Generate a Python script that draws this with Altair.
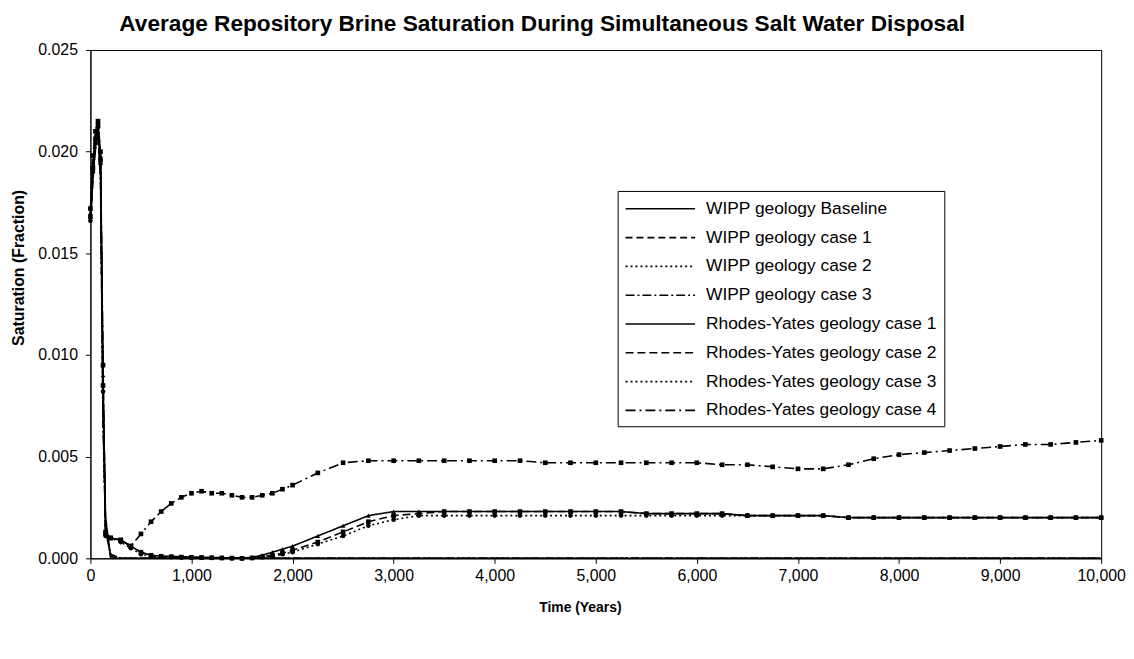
import altair as alt
import pandas as pd

SERIES = [
    "WIPP geology Baseline",
    "WIPP geology case 1",
    "WIPP geology case 2",
    "WIPP geology case 3",
    "Rhodes-Yates geology case 1",
    "Rhodes-Yates geology case 2",
    "Rhodes-Yates geology case 3",
    "Rhodes-Yates geology case 4",
]
DASHES = [[1, 0], [7, 4], [2, 3], [9, 3, 2, 3], [1, 0], [8, 4], [2, 3], [10, 4, 2, 4]]
WIDTHS = [1.6, 1.6, 1.6, 1.6, 2.2, 2.2, 2.2, 2.2]
MK_SERIES = SERIES[4:]
MK_SHAPES = ["triangle-up", "square", "circle", "square"]

X_TICKS = [0, 1000, 2000, 3000, 4000, 5000, 6000, 7000, 8000, 9000, 10000]
Y_TICKS = [0.0, 0.005, 0.010, 0.015, 0.020, 0.025]

# WIPP geology runs (time in years)
WIPP_T = [0, 25, 50, 75, 100, 125, 150, 200, 300, 500, 1000, 2000, 4000, 6000, 8000, 10000]
WIPP_BASE = [0.0165, 0.0190, 0.0205, 0.0212, 0.0195, 0.0080, 0.0020, 0.0, 0.0, 0.0, 0.0, 0.0, 0.0, 0.0, 0.0, 0.0]
WIPP_C1 = [0.0165, 0.0188, 0.0203, 0.0210, 0.0190, 0.0070, 0.0016, 0.0002, 0.0, 0.0, 0.0, 0.0, 0.0, 0.0, 0.0, 0.0]
WIPP_C2 = [0.0165, 0.0187, 0.0202, 0.0209, 0.0188, 0.0068, 0.0015, 0.0002, 0.0, 0.0, 0.0, 0.0, 0.0, 0.0, 0.0, 0.0]
WIPP_C3 = [0.0165, 0.0186, 0.0201, 0.0208, 0.0186, 0.0066, 0.0014, 0.0001, 0.0, 0.0, 0.0, 0.0, 0.0, 0.0, 0.0, 0.0]

# Rhodes-Yates geology runs
RY_T = [0, 25, 50, 75, 100, 125, 150, 200,
        300, 400, 500, 600, 700, 800, 900, 1000, 1100, 1200, 1300, 1400, 1500, 1600, 1700, 1800, 1900, 2000,
        2250, 2500, 2750, 3000, 3250, 3500, 3750, 4000, 4250, 4500, 4750, 5000, 5250, 5500, 5750, 6000,
        6250, 6500, 6750, 7000, 7250, 7500, 7750, 8000, 8250, 8500, 8750, 9000, 9250, 9500, 9750, 10000]
RY_C1 = [0.0170, 0.0195, 0.0208, 0.0214, 0.0198, 0.0090, 0.0012, 0.0010,
         0.0009, 0.0006, 0.0003, 0.00015, 0.0001, 0.0001, 0.00008, 0.00006, 0.00005, 0.00004, 0.00003, 0.00002, 0.00001, 0.00005, 0.00015, 0.0003, 0.00045, 0.0006,
         0.0011, 0.0016, 0.0021, 0.0023, 0.0023, 0.0023, 0.0023, 0.0023, 0.0023, 0.0023, 0.0023, 0.0023, 0.0023, 0.0022, 0.0022, 0.0022,
         0.0022, 0.0021, 0.0021, 0.0021, 0.0021, 0.0020, 0.0020, 0.0020, 0.0020, 0.0020, 0.0020, 0.0020, 0.0020, 0.0020, 0.0020, 0.0020]
RY_C2 = [0.0168, 0.0192, 0.0206, 0.0213, 0.0196, 0.0085, 0.0012, 0.0010,
         0.0009, 0.0006, 0.0003, 0.00015, 0.0001, 0.00008, 0.00006, 0.00005, 0.00004, 0.00003, 0.00002, 0.00001, 0.0, 0.00002, 0.00008, 0.00015, 0.00025, 0.0004,
         0.0008, 0.0013, 0.0018, 0.0021, 0.0022, 0.0023, 0.0023, 0.0023, 0.0023, 0.0023, 0.0023, 0.0023, 0.0023, 0.0022, 0.0022, 0.0022,
         0.0022, 0.0021, 0.0021, 0.0021, 0.0021, 0.0020, 0.0020, 0.0020, 0.0020, 0.0020, 0.0020, 0.0020, 0.0020, 0.0020, 0.0020, 0.0020]
RY_C3 = [0.0166, 0.0190, 0.0204, 0.0212, 0.0194, 0.0082, 0.0011, 0.0010,
         0.0008, 0.0005, 0.0002, 0.0001, 0.00008, 0.00006, 0.00005, 0.00004, 0.00003, 0.00002, 0.00001, 0.0, 0.0, 0.00001, 0.00005, 0.0001, 0.0002, 0.0003,
         0.0007, 0.0011, 0.0016, 0.0019, 0.0021, 0.0021, 0.0021, 0.0021, 0.0021, 0.0021, 0.0021, 0.0021, 0.0021, 0.0021, 0.0021, 0.0021,
         0.0021, 0.0021, 0.0021, 0.0021, 0.0021, 0.0020, 0.0020, 0.0020, 0.0020, 0.0020, 0.0020, 0.0020, 0.0020, 0.0020, 0.0020, 0.0020]
RY_C4 = [0.0172, 0.0198, 0.0210, 0.0215, 0.0200, 0.0095, 0.0013, 0.0010,
         0.0009, 0.0006, 0.0012, 0.0018, 0.0023, 0.0027, 0.0030, 0.0032, 0.0033, 0.0032, 0.0032, 0.0031, 0.0030, 0.0030, 0.0031, 0.0032, 0.0034, 0.0036,
         0.0042, 0.0047, 0.0048, 0.0048, 0.0048, 0.0048, 0.0048, 0.0048, 0.0048, 0.0047, 0.0047, 0.0047, 0.0047, 0.0047, 0.0047, 0.0047,
         0.0046, 0.0046, 0.0045, 0.0044, 0.0044, 0.0046, 0.0049, 0.0051, 0.0052, 0.0053, 0.0054, 0.0055, 0.0056, 0.0056, 0.0057, 0.0058]

rows = []
for name, vals in zip(SERIES[:4], [WIPP_BASE, WIPP_C1, WIPP_C2, WIPP_C3]):
    for t, v in zip(WIPP_T, vals):
        rows.append({"series": name, "mk": name, "t": t, "v": v, "marker": False})
for name, vals in zip(SERIES[4:], [RY_C1, RY_C2, RY_C3, RY_C4]):
    for t, v in zip(RY_T, vals):
        rows.append({"series": name, "mk": name, "t": t, "v": v, "marker": True})
df = pd.DataFrame(rows)

FONT = "Liberation Sans"

x_enc = alt.X("t:Q", scale=alt.Scale(domain=[0, 10000], nice=False),
              axis=alt.Axis(values=X_TICKS, format=",d", title="Time (Years)", grid=False,
                            labelFlush=False, labelFontSize=16, titleFontSize=14, titleFontWeight="bold",
                            labelFont=FONT, titleFont=FONT, labelColor="black", titleColor="black",
                            domainColor="black", tickColor="black", tickSize=5, labelPadding=4,
                            titlePadding=18, titleX=493))
y_enc = alt.Y("v:Q", scale=alt.Scale(domain=[0, 0.025], nice=False),
              axis=alt.Axis(values=Y_TICKS, format=".3f", title="Saturation (Fraction)", grid=False,
                            labelFontSize=16, titleFontSize=16, titleFontWeight="bold",
                            labelFont=FONT, titleFont=FONT, labelColor="black", titleColor="black",
                            domainColor="black", tickColor="black", tickSize=5, labelPadding=8,
                            titlePadding=11, titleY=219))

lines = alt.Chart(df).mark_line(color="black").encode(
    x=x_enc,
    y=y_enc,
    strokeDash=alt.StrokeDash("series:N", scale=alt.Scale(domain=SERIES, range=DASHES),
                              legend=alt.Legend(title=None, orient="none", legendX=531, legendY=142,
                                                symbolType="M-1,0H6", symbolSize=400,
                                                symbolStrokeWidth=1.8, symbolStrokeColor="black",
                                                labelFont=FONT, labelFontSize=17.5, labelColor="black",
                                                labelLimit=400, labelOffset=60, rowPadding=9,
                                                strokeColor="black", fillColor="white", padding=7)),
    strokeWidth=alt.StrokeWidth("series:N", scale=alt.Scale(domain=SERIES, range=WIDTHS), legend=None),
    order="t:Q",
)

points = alt.Chart(df).transform_filter("datum.marker").mark_point(
    filled=True, color="black", size=22, opacity=1
).encode(
    x=alt.X("t:Q"),
    y=alt.Y("v:Q"),
    shape=alt.Shape("mk:N", scale=alt.Scale(domain=MK_SERIES, range=MK_SHAPES), legend=None),
)

chart = alt.layer(lines, points).properties(
    width=1018,
    height=512,
    title=alt.TitleParams(
        "Average Repository Brine Saturation During Simultaneous Salt Water Disposal",
        font=FONT, fontSize=22.8, fontWeight="bold", color="black", anchor="middle",
        offset=6, dx=-54),
    autosize="none",
    padding={"left": 83, "top": 40, "right": 25, "bottom": 80},
).configure_view(stroke="black", strokeWidth=1)

chart.save("out.html", embed_options={"renderer": "svg", "actions": False})
